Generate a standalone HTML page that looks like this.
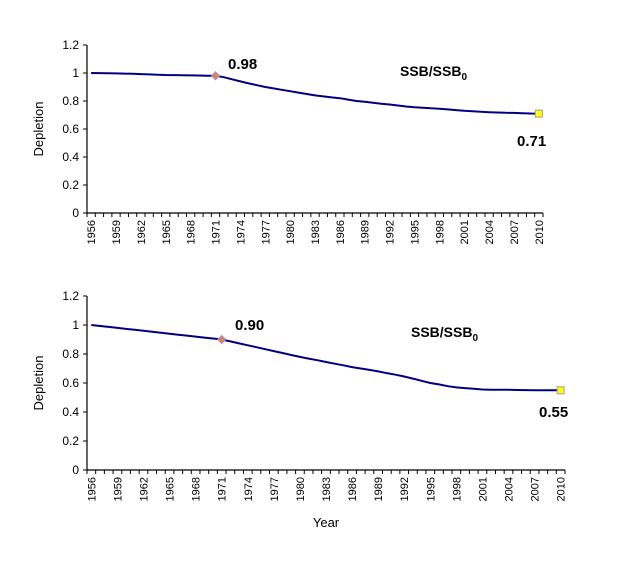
<!DOCTYPE html>
<html><head><meta charset="utf-8"><style>
html,body{margin:0;padding:0;background:#fff;}
svg{display:block;font-family:"Liberation Sans",Arial,sans-serif;}
</style></head><body>
<svg id="c" width="617" height="565" viewBox="0 0 617 565"></svg>
<script>
const years=[];for(let y=1956;y<=2010;y++)years.push(y);
const yTicks=[0,0.2,0.4,0.6,0.8,1,1.2];
const yTickLabels=["0","0.2","0.4","0.6","0.8","1","1.2"];
const topSeries=[1.0,0.999,0.998,0.997,0.996,0.994,0.992,0.99,0.988,0.986,0.985,0.984,0.983,0.982,0.981,0.98,
0.97,0.955,0.94,0.926,0.913,0.90,0.89,0.88,0.87,0.86,0.85,0.84,0.833,0.826,0.82,0.81,0.80,0.795,0.788,0.781,0.775,0.768,0.761,0.755,0.752,0.748,0.745,0.74,0.735,0.73,0.727,0.723,0.72,0.718,0.716,0.715,0.713,0.711,0.71];
const bottomSeries=[1.0,0.993,0.987,0.98,0.973,0.967,0.96,0.953,0.947,0.94,0.933,0.927,0.92,0.913,0.907,0.90,
0.887,0.873,0.86,0.847,0.833,0.82,0.807,0.793,0.78,0.768,0.757,0.745,0.733,0.722,0.71,0.70,0.69,0.68,0.668,0.657,0.645,0.63,0.615,0.60,0.59,0.578,0.57,0.565,0.56,0.555,0.554,0.554,0.553,0.552,0.551,0.55,0.55,0.55,0.55];
const topMarkIdx=15, bottomMarkIdx=15;
const topMarkLabel="0.98", topEndLabel="0.71", bottomMarkLabel="0.90", bottomEndLabel="0.55";

const svg=document.getElementById('c');const NS="http://www.w3.org/2000/svg";
function mk(t,a,p){const e=document.createElementNS(NS,t);for(const k in a)e.setAttribute(k,a[k]);(p||svg).appendChild(e);return e;}

function chart(name,x0,x1,yb,yt,series,mi,ml,el,mlPos,ssbPos,elPos){
  const g=mk('g',{});
  
  
  const n=years.length, w=(x1-x0)/n;
  const xs=i=>x0+(i+0.5)*w;
  const ys=v=>yb-(v/1.2)*(yb-yt);
  const ax=mk('path',{d:`M${x0} ${yt}V${yb}H${x1}`,stroke:'#000',fill:'none','stroke-width':1.2},g);
  
  
  yTicks.forEach((t,i)=>{
    const y=ys(t);
    mk('line',{x1:x0-4,x2:x0,y1:y,y2:y,stroke:'#000'},g);
    const tx=mk('text',{x:x0-8,y:y+4,'text-anchor':'end','font-size':12},g);
    tx.textContent=yTickLabels[i];
    
    
  });
  for(let i=0;i<=n;i++){const x=x0+i*w;mk('line',{x1:x,x2:x,y1:yb,y2:yb+4,stroke:'#000'},g);}
  years.forEach((yr,i)=>{
    if((yr-1956)%3)return;
    const x=xs(i);
    const tx=mk('text',{x:0,y:0,'text-anchor':'end','font-size':11,transform:`translate(${x+4},${yb+7}) rotate(-90)`},g);
    tx.textContent=yr;
    
    
  });
  const d=series.map((v,i)=>(i?'L':'M')+xs(i).toFixed(1)+' '+ys(v).toFixed(1)).join('');
  const ln=mk('path',{d,stroke:'#000080',fill:'none','stroke-width':2},g);
  
  
  const dm=mk('path',{d:`M${xs(mi)} ${ys(series[mi])-4}l4 4l-4 4l-4-4z`,fill:'#f08040',stroke:'#9090e0','stroke-width':1},g);
  
  
  const li=n-1;
  const sq=mk('rect',{x:xs(li)-3.5,y:ys(series[li])-3.5,width:7,height:7,fill:'#ffff00',stroke:'#a0a0a0'},g);
  
  
  const t1=mk('text',{x:mlPos[0],y:mlPos[1],'font-size':15,'font-weight':'bold'},g);t1.textContent=ml;
  
  
  const t2=mk('text',{x:elPos[0],y:elPos[1],'font-size':15,'font-weight':'bold'},g);t2.textContent=el;
  
  
  const t3=mk('text',{x:ssbPos[0],y:ssbPos[1],'font-size':14,'font-weight':'bold'},g);
  t3.innerHTML='SSB/SSB<tspan font-size="10" dy="4">0</tspan>';
  
  
  const yt2=mk('text',{x:0,y:0,'text-anchor':'middle','font-size':13,transform:`translate(43,${(yb+yt)/2}) rotate(-90)`},g);
  yt2.textContent='Depletion';
  
  
}
chart('top-chart',87,543,213,45,topSeries,topMarkIdx,topMarkLabel,topEndLabel,[228,69],[400,76],[517,146]);
chart('bottom-chart',87,565,470,296,bottomSeries,bottomMarkIdx,bottomMarkLabel,bottomEndLabel,[235,330],[411,337],[539,417]);
const yr=mk('text',{x:326,y:527,'text-anchor':'middle','font-size':13});
yr.textContent='Year';


</script>
</body></html>
